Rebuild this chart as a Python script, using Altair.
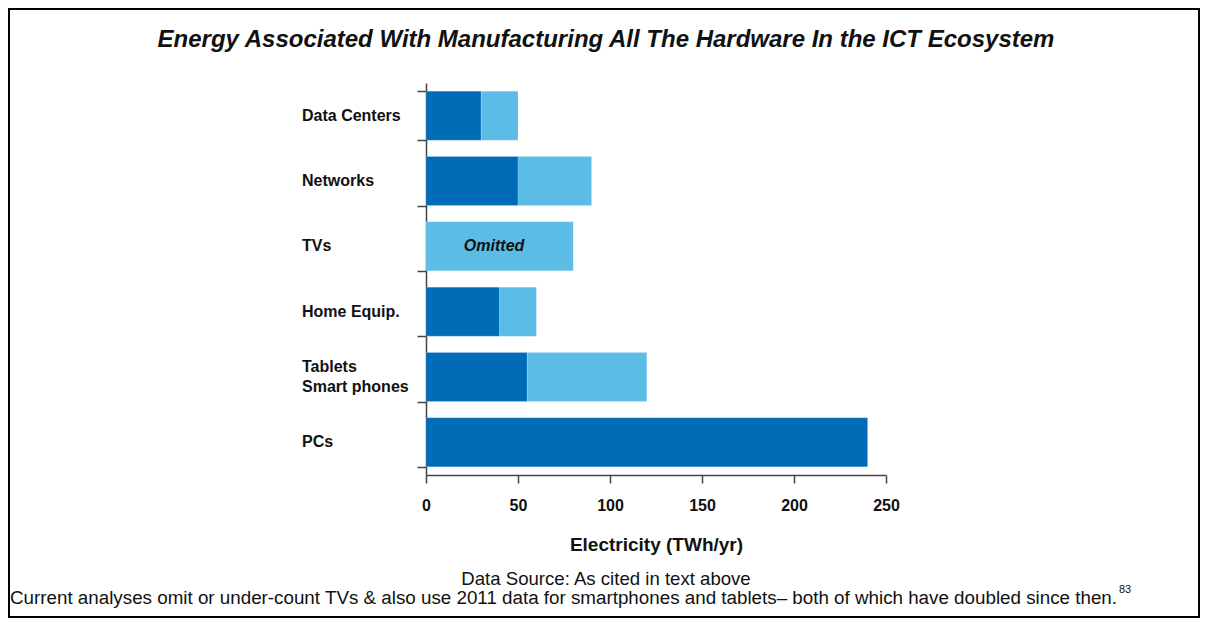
import altair as alt
import pandas as pd

categories = ["Data Centers", "Networks", "TVs", "Home Equip.", "Tablets|Smart phones", "PCs"]
manufacturing_dark = [30, 50, 0, 40, 55, 240]
additional_light = [20, 40, 80, 20, 65, 0]
x_ticks = [0, 50, 100, 150, 200, 250]

title_text = "Energy Associated With Manufacturing All The Hardware In the ICT Ecosystem"
x_title = "Electricity (TWh/yr)"
note1 = "Data Source: As cited in text above"
note2 = "Current analyses omit or under-count TVs & also use 2011 data for smartphones and tablets\u2013 both of which have doubled since then."
note2_sup = "83"
omitted_label = "Omitted"
omitted_pos = 37

DARK = "#006bb6"
LIGHT = "#5bbce6"
FONT = "Liberation Sans"

rows = []
for c, d, l in zip(categories, manufacturing_dark, additional_light):
    if d:
        rows.append({"cat": c, "seg": "dark", "val": d, "ord": 0})
    if l:
        rows.append({"cat": c, "seg": "light", "val": l, "ord": 1})
df = pd.DataFrame(rows)

yscale = alt.Scale(domain=categories, paddingInner=0.25, paddingOuter=0.125)

bars = alt.Chart(df).mark_bar(stroke="white", strokeWidth=0.5, strokeOpacity=0.3).encode(
    y=alt.Y("cat:N", scale=yscale, sort=categories,
            axis=alt.Axis(title=None, tickBand="extent", tickSize=9, labels=False,
                          domainColor="#444", tickColor="#444", domainWidth=1.5, tickWidth=1.5)),
    x=alt.X("val:Q", stack="zero", scale=alt.Scale(domain=[0, 250], nice=False),
            axis=alt.Axis(values=x_ticks, title=x_title, tickSize=8, labelPadding=14,
                          labelFlush=False,
                          labelFont=FONT, labelFontSize=16, labelFontWeight="bold",
                          labelColor="#111", titleFont=FONT, titleFontSize=19,
                          titleFontWeight="bold", titleColor="#111", titlePadding=22,
                          domainColor="#444", tickColor="#444", domainWidth=1.5, tickWidth=1.5,
                          grid=False)),
    color=alt.Color("seg:N", scale=alt.Scale(domain=["dark", "light"], range=[DARK, LIGHT]), legend=None),
    order=alt.Order("ord:Q"),
)

lab_df = pd.DataFrame({"cat": categories})
lab_single = alt.Chart(lab_df).transform_filter("indexof(datum.cat, '|') < 0").mark_text(
    font=FONT, fontSize=16, fontWeight="bold", color="#111", align="left", baseline="middle"
).encode(y=alt.Y("cat:N", scale=yscale, sort=categories), x=alt.value(-124), text="cat:N")
lab_multi = alt.Chart(lab_df).transform_filter("indexof(datum.cat, '|') >= 0").mark_text(
    font=FONT, fontSize=16, fontWeight="bold", color="#111", align="left", baseline="middle",
    lineBreak="|", lineHeight=20, dy=-10
).encode(y=alt.Y("cat:N", scale=yscale, sort=categories), x=alt.value(-124), text="cat:N")

om = alt.Chart(pd.DataFrame({"cat": ["TVs"], "x": [omitted_pos], "t": [omitted_label]})).mark_text(
    font=FONT, fontSize=16, fontWeight="bold", fontStyle="italic", color="#111"
).encode(y=alt.Y("cat:N", scale=yscale, sort=categories), x=alt.X("x:Q"), text="t:N")

ttl = alt.Chart(pd.DataFrame({"t": [title_text]})).mark_text(
    font=FONT, fontSize=24, fontWeight="bold", fontStyle="italic", color="#111",
    align="center", baseline="middle").encode(x=alt.value(180), y=alt.value(-43), text="t:N")

n1 = alt.Chart(pd.DataFrame({"t": [note1]})).mark_text(font=FONT, fontSize=18.6, color="#111", align="center", baseline="middle").encode(
    x=alt.value(180), y=alt.value(496), text="t:N")
n2 = alt.Chart(pd.DataFrame({"t": [note2]})).mark_text(font=FONT, fontSize=18.8, color="#111", align="left", baseline="middle").encode(
    x=alt.value(-416), y=alt.value(515), text="t:N")
n3 = alt.Chart(pd.DataFrame({"t": [note2_sup]})).mark_text(font=FONT, fontSize=11, color="#111", align="left", baseline="middle").encode(
    x=alt.value(693), y=alt.value(507), text="t:N")

border = alt.Chart(pd.DataFrame({"a": [1]})).mark_rect(filled=False, stroke="black", strokeWidth=2).encode(
    x=alt.value(-417), x2=alt.value(773), y=alt.value(-74), y2=alt.value(534))

chart = alt.layer(bars, lab_single, lab_multi, om, ttl, n1, n2, n3, border).properties(
    width=460, height=392,
    background="white",
    autosize=alt.AutoSizeParams(type="none"),
    padding={"left": 418, "top": 75, "right": 314, "bottom": 143},
).configure_view(stroke=None)

chart.save("out.html", embed_options={"renderer": "svg", "actions": False})
